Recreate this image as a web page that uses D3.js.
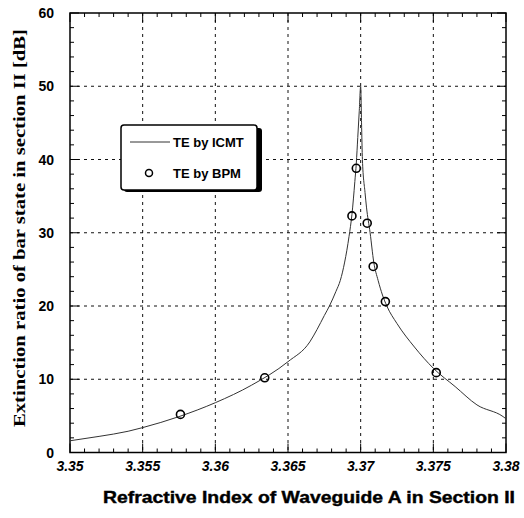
<!DOCTYPE html>
<html><head><meta charset="utf-8">
<script src="https://cdn.jsdelivr.net/npm/d3@7"></script>
<style>body{margin:0;background:#fff}svg{display:block}</style>
</head><body>
<svg id="c" width="524" height="518"></svg>
<script>
// ICMT curve (refractive index, extinction ratio dB)
const curveN = [3.350,3.352,3.354,3.355,3.3575,3.360,3.3625,3.365,3.3665,3.3670,3.3675,3.36785,3.3683,3.3686,3.3689,3.3692,3.3694,3.3696,3.3697,3.3698,3.3699,3.3700,3.37006,3.37012,3.3703,3.3704,3.37065,3.3709,3.3712,3.3715,3.3718,3.3725,3.3737,3.3750,3.3765,3.3780,3.3798,3.3800];
const curveDB = [1.6,2.2,2.9,3.4,4.9,6.8,9.2,12.4,15.1,16.8,18.7,20.0,22.0,23.5,26.0,29.5,32.5,37.0,39.5,43.0,46.5,50.0,45.0,40.0,35.5,33.5,30.0,26.0,23.5,21.5,20.0,17.6,14.4,11.5,9.0,6.5,4.9,4.6];
// BPM points
const bpmN = [3.3576,3.3634,3.3694,3.3697,3.37045,3.37086,3.3717,3.3752];
const bpmDB = [5.2,10.2,32.3,38.8,31.3,25.4,20.6,10.9];
const xTicks = [3.35,3.355,3.36,3.365,3.37,3.375,3.38];
const xTickLabels = ["3.35","3.355","3.36","3.365","3.37","3.375","3.38"];
const yTicks = [0,10,20,30,40,50,60];
const seriesNames = ["TE by ICMT","TE by BPM"];

const svg = d3.select("#c");
const L=70, R=506, T=13, B=452.5;
const x = d3.scaleLinear().domain([3.35,3.38]).range([L,R]);
const y = d3.scaleLinear().domain([0,60]).range([B,T]);

// grid
const g = svg.append("g");
g.selectAll(".vg").data(xTicks.slice(1,-1)).enter().append("line")
  .attr("x1",d=>x(d)).attr("x2",d=>x(d)).attr("y1",T).attr("y2",B)
  .attr("stroke","#111").attr("stroke-width",1).attr("stroke-dasharray","3,4");
g.selectAll(".hg").data(yTicks.slice(1,-1)).enter().append("line")
  .attr("y1",d=>y(d)).attr("y2",d=>y(d)).attr("x1",L).attr("x2",R)
  .attr("stroke","#111").attr("stroke-width",1).attr("stroke-dasharray","3,4");

// minor / major ticks
const xMinor = d3.range(0,31).map(i=>3.35+i*0.001);
const yMinor = d3.range(0,31).map(i=>i*2);
xMinor.forEach((v,i)=>{
  const len = (i%5===0)?9:4;
  svg.append("line").attr("x1",x(v)).attr("x2",x(v)).attr("y1",B).attr("y2",B-len).attr("stroke","#000");
  svg.append("line").attr("x1",x(v)).attr("x2",x(v)).attr("y1",T).attr("y2",T+len).attr("stroke","#000");
});
yMinor.forEach((v,i)=>{
  const len = (i%5===0)?9:4;
  svg.append("line").attr("y1",y(v)).attr("y2",y(v)).attr("x1",L).attr("x2",L+len).attr("stroke","#000");
  svg.append("line").attr("y1",y(v)).attr("y2",y(v)).attr("x1",R).attr("x2",R-len).attr("stroke","#000");
});

// frame
svg.append("rect").attr("x",L).attr("y",T).attr("width",R-L).attr("height",B-T)
  .attr("fill","none").attr("stroke","#000").attr("stroke-width",1.5);

// curve
const line = d3.line().x((d,i)=>x(curveN[i])).y((d,i)=>y(curveDB[i])).curve(d3.curveMonotoneX);
svg.append("path").attr("d",line(curveN)).attr("fill","none").attr("stroke","#333").attr("stroke-width",1);

// points
svg.selectAll(".pt").data(bpmN).enter().append("circle")
  .attr("cx",d=>x(d)).attr("cy",(d,i)=>y(bpmDB[i])).attr("r",4)
  .attr("fill","none").attr("stroke","#000").attr("stroke-width",1.6);

// x tick labels
svg.selectAll(".xl").data(xTicks).enter().append("text")
  .attr("x",d=>x(d)).attr("y",471).attr("text-anchor","middle")
  .attr("font-family","Liberation Sans, Arial, sans-serif").attr("font-weight","bold").attr("font-style","italic")
  .attr("font-size",14).text((d,i)=>xTickLabels[i]);
// y tick labels
svg.selectAll(".yl").data(yTicks).enter().append("text")
  .attr("x",54).attr("y",d=>y(d)+5).attr("text-anchor","end")
  .attr("font-family","Liberation Sans, Arial, sans-serif").attr("font-weight","bold")
  .attr("font-size",14).text(d=>d);

// titles
svg.append("text").attr("x",309).attr("y",503).attr("text-anchor","middle")
  .attr("font-family","Liberation Sans, Arial, sans-serif").attr("font-weight","bold")
  .attr("font-size",16.5).attr("textLength",412).attr("lengthAdjust","spacingAndGlyphs")
  .attr("stroke","#000").attr("stroke-width",0.4)
  .text("Refractive Index of Waveguide A in Section II");
svg.append("text").attr("transform","translate(25,228) rotate(-90)").attr("text-anchor","middle")
  .attr("font-family","Liberation Serif, Times New Roman, serif").attr("font-weight","bold")
  .attr("font-size",17.5).attr("textLength",398).attr("lengthAdjust","spacingAndGlyphs")
  .text("Extinction ratio of bar state in section II [dB]");

// legend
const lg = svg.append("g");
lg.append("rect").attr("x",124).attr("y",128).attr("width",138).attr("height",64).attr("rx",3).attr("fill","#000");
lg.append("rect").attr("x",121).attr("y",125).attr("width",136).attr("height",65).attr("rx",3)
  .attr("fill","#fff").attr("stroke","#000").attr("stroke-width",1.5);
lg.append("line").attr("x1",130).attr("x2",170).attr("y1",142).attr("y2",142).attr("stroke","#333").attr("stroke-width",1);
lg.append("circle").attr("cx",149).attr("cy",173).attr("r",3.5).attr("fill","none").attr("stroke","#000").attr("stroke-width",1.5);
lg.selectAll(".lt").data(seriesNames).enter().append("text")
  .attr("x",173).attr("y",(d,i)=>i===0?147:178)
  .attr("font-family","Liberation Sans, Arial, sans-serif").attr("font-weight","bold")
  .attr("font-size",13).text(d=>d);
</script>
</body></html>
